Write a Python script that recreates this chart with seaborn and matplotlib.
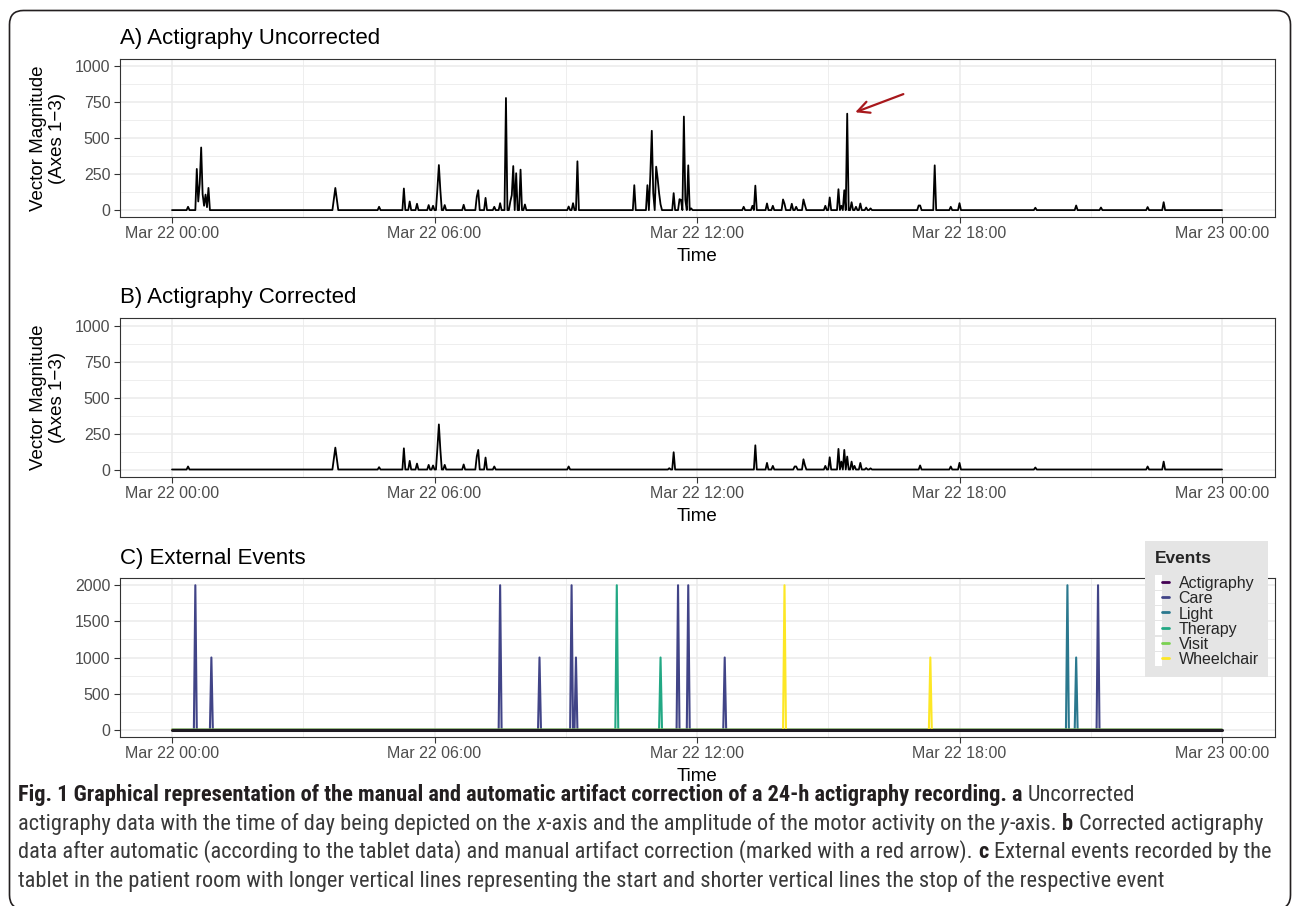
import numpy as np
import pandas as pd
import matplotlib
matplotlib.use("Agg")
import matplotlib.pyplot as plt
import matplotlib.dates as mdates
from matplotlib.ticker import MultipleLocator
from matplotlib import font_manager
from matplotlib.patches import FancyBboxPatch, Patch
from matplotlib.lines import Line2D
from matplotlib.legend_handler import HandlerTuple
import seaborn as sns

# ------------------------------------------------------------------ data
DAY = "2020-03-22"

uncorrected_times = [
    "00:22", "00:34", "00:36", "00:38", "00:40", "00:42", "00:44", "00:46", "00:48", "00:50",
    "03:42", "03:44", "03:46", "04:44", "05:18", "05:26", "05:36", "05:52", "05:58",
    "06:04", "06:06", "06:08", "06:14", "06:40", "06:58", "07:00", "07:10", "07:22",
    "07:30", "07:38", "07:44", "07:46", "07:48", "07:52", "07:58", "08:04",
    "09:04", "09:10", "09:16",
    "10:34", "10:52", "10:56", "10:58", "11:00", "11:04", "11:06", "11:08", "11:10",
    "11:28", "11:36", "11:38", "11:42", "11:44", "11:48", "11:52",
    "13:04", "13:16", "13:20", "13:36", "13:44", "13:58", "14:00", "14:10", "14:16",
    "14:26", "14:28", "14:56", "15:02", "15:14", "15:18", "15:22", "15:26", "15:32",
    "15:38", "15:44", "15:52", "15:58", "17:04", "17:06", "17:26", "17:48", "18:00",
    "19:44", "20:40", "21:14", "22:18", "22:40",
]
uncorrected_values = [
    23, 286, 60, 182, 435, 110, 30, 108, 20, 154,
    75, 154, 75, 23, 150, 60, 44, 35, 30,
    150, 313, 140, 35, 37, 94, 138, 85, 23,
    48, 779, 60, 104, 306, 256, 281, 39,
    25, 48, 339,
    173, 173, 247, 551, 118, 302, 221, 118, 40,
    118, 76, 71, 650, 71, 311, 12,
    23, 30, 170, 46, 30, 74, 44, 44, 23,
    74, 35, 30, 88, 145, 30, 138, 670, 55,
    23, 46, 18, 12, 32, 32, 311, 23, 48,
    16, 32, 18, 21, 55,
]

corrected_times = [
    "00:22", "03:42", "03:44", "03:46", "04:44", "05:18", "05:26", "05:36", "05:52", "05:58",
    "06:04", "06:06", "06:08", "06:14", "06:40", "06:58", "07:00", "07:10", "07:22",
    "09:04", "11:22", "11:28",
    "13:20", "13:36", "13:44", "14:14", "14:16", "14:26", "14:28", "14:56", "15:02",
    "15:14", "15:18", "15:22", "15:26", "15:32", "15:36", "15:44", "15:52", "15:58",
    "17:06", "17:48", "18:00", "19:44", "22:18", "22:40",
]
corrected_values = [
    21, 75, 152, 75, 16, 147, 60, 41, 32, 28,
    150, 313, 140, 32, 35, 92, 136, 83, 21,
    21, 9, 120,
    168, 46, 25, 21, 21, 71, 30, 25, 85,
    143, 55, 136, 90, 55, 25, 46, 10, 8,
    28, 21, 46, 14, 21, 55,
]

event_names = ["Actigraphy", "Care", "Light", "Therapy", "Visit", "Wheelchair"]
event_colors = ["#440154", "#414487", "#2A788E", "#22A884", "#7AD151", "#FDE725"]

care_times = ["00:32", "00:54", "07:30", "08:24", "09:08", "09:14", "11:34", "11:48", "12:38", "21:10"]
care_values = [2000, 1000, 2000, 1000, 2000, 1000, 2000, 2000, 1000, 2000]
light_times = ["20:28", "20:40"]
light_values = [2000, 1000]
therapy_times = ["10:10", "11:10"]
therapy_values = [2000, 1000]
visit_times = []
visit_values = []
wheelchair_times = ["14:00", "17:20"]
wheelchair_values = [2000, 1000]

x_ticks = ["00:00", "06:00", "12:00", "18:00", "24:00"]
y_ticks_act = [0, 250, 500, 750, 1000]
y_ticks_ev = [0, 500, 1000, 1500, 2000]

titles = ["A) Actigraphy Uncorrected", "B) Actigraphy Corrected", "C) External Events"]
y_title = "Vector Magnitude\n(Axes 1\u22123)"
x_title = "Time"

arrow_head = ("15:37", 680)
arrow_tail = ("16:43", 806)

# ------------------------------------------------------------------ helpers
grid = pd.date_range(f"{DAY} 00:00", periods=721, freq="2min")


def stamp(hhmm):
    return pd.Timestamp(DAY) + pd.Timedelta(hours=int(hhmm[:2]), minutes=int(hhmm[3:]))


def series(times, values):
    s = pd.Series(0.0, index=grid)
    for t, v in zip(times, values):
        s[stamp(t).floor("2min")] = v
    return pd.DataFrame({"time": s.index, "value": s.values})


df_a = series(uncorrected_times, uncorrected_values)
df_b = series(corrected_times, corrected_values)

ev_frames = []
for name, tt, vv in [("Actigraphy", [], []), ("Care", care_times, care_values),
                     ("Light", light_times, light_values),
                     ("Therapy", therapy_times, therapy_values),
                     ("Visit", visit_times, visit_values),
                     ("Wheelchair", wheelchair_times, wheelchair_values)]:
    f = series(tt, vv)
    f["Events"] = name
    ev_frames.append(f)
df_ev = pd.concat(ev_frames, ignore_index=True)
palette = dict(zip(event_names, event_colors))

# ------------------------------------------------------------------ style
sns.set_theme(style="white")
plt.rcParams["font.family"] = ["Liberation Sans", "DejaVu Sans"]

W, H = 1292, 906
fig = plt.figure(figsize=(W / 100, H / 100), dpi=100)
fig.patch.set_facecolor("white")

ax_left, ax_right = 119.5, 1274.5
panels = [(59, 217.3), (318.3, 476.7), (578, 737)]
axes = []
for top, bot in panels:
    ax = fig.add_axes([ax_left / W, 1 - bot / H, (ax_right - ax_left) / W, (bot - top) / H])
    axes.append(ax)
ax_a, ax_b, ax_c = axes

x0 = stamp(x_ticks[0])
x1 = stamp(x_ticks[-1])
pad = (x1 - x0) * 0.05

sns.lineplot(data=df_a, x="time", y="value", ax=ax_a, color="black", lw=1.3,
             estimator=None, errorbar=None)
sns.lineplot(data=df_b, x="time", y="value", ax=ax_b, color="black", lw=1.3,
             estimator=None, errorbar=None)
sns.lineplot(data=df_ev[df_ev["Events"] != "Actigraphy"], x="time", y="value",
             hue="Events", hue_order=event_names[1:], palette=palette, ax=ax_c,
             lw=1.5, estimator=None, errorbar=None, legend=False)
sns.lineplot(data=df_ev[df_ev["Events"] == "Actigraphy"], x="time", y="value",
             ax=ax_c, color="#1E1A22", lw=2.2, estimator=None, errorbar=None)

for ax, yt in zip(axes, [y_ticks_act, y_ticks_act, y_ticks_ev]):
    ax.set_xlim(x0 - pad, x1 + pad)
    step = yt[1] - yt[0]
    ax.set_ylim(yt[0] - 0.05 * (yt[-1] - yt[0]), yt[-1] + 0.05 * (yt[-1] - yt[0]))
    ax.set_yticks(yt)
    ax.yaxis.set_minor_locator(MultipleLocator(step / 2))
    ax.set_xticks([stamp(t) for t in x_ticks])
    ax.xaxis.set_minor_locator(mdates.HourLocator(byhour=[3, 9, 15, 21]))
    ax.xaxis.set_major_formatter(mdates.DateFormatter("%b %d %H:%M"))
    ax.grid(which="major", color="#EBEBEB", lw=1.1)
    ax.grid(which="minor", color="#EBEBEB", lw=0.6)
    ax.set_axisbelow(True)
    ax.set_facecolor("white")
    for sp in ax.spines.values():
        sp.set_visible(True)
        sp.set_color("#333333")
        sp.set_linewidth(0.8)
    ax.tick_params(which="major", length=4, width=0.8, color="#333333",
                   labelcolor="#4D4D4D", labelsize=11.5, pad=2.5,
                   bottom=True, left=True)
    ax.tick_params(which="minor", length=0)
    ax.set_xlabel(x_title, fontsize=13.5, labelpad=5, color="black")
    ax.set_ylabel("")

for ax in (ax_a, ax_b):
    ax.set_ylabel(y_title, fontsize=13.5, color="black", linespacing=1.15)
    ax.yaxis.set_label_coords((66 - ax_left) / (ax_right - ax_left), 0.5)

# titles
for ax, title, base in zip(axes, titles, [44, 303.5, 564]):
    fig.text(120 / W, 1 - base / H, title, fontsize=16, ha="left", va="baseline",
             color="black")

# red arrow (manual correction)
ax_a.annotate("", xy=(stamp(arrow_head[0]), arrow_head[1]),
              xytext=(stamp(arrow_tail[0]), arrow_tail[1]),
              arrowprops=dict(arrowstyle="->,head_length=0.7,head_width=0.35",
                              color="#A8181C", lw=1.6, shrinkA=0, shrinkB=0))

# legend
handles = [(Patch(facecolor="white", edgecolor="none"), Line2D([], [], color=c, lw=2))
           for c in event_colors]
leg = ax_c.legend(handles, event_names,
                  handler_map={tuple: HandlerTuple(ndivide=None, pad=0)},
                  loc="upper left", bbox_to_anchor=(1145 / W, 1 - 541 / H),
                  bbox_transform=fig.transFigure, borderaxespad=0,
                  frameon=True, fancybox=False, facecolor="#E5E5E5", edgecolor="none",
                  framealpha=1, title="Events",
                  title_fontproperties={"weight": "bold", "size": 12.5},
                  fontsize=11.5, handlelength=0.9, handleheight=1.0,
                  handletextpad=0.6, labelspacing=-0.02, borderpad=0.6,
                  alignment="left")
leg._legend_box.sep = 7
leg.set_zorder(10)

# border
border = FancyBboxPatch((9.5, -3), 1281, 898.5, boxstyle="round,pad=0,rounding_size=14",
                        transform=None, fill=False, ec="#231F20", lw=1.2)
fig.add_artist(border)

# caption font: prefer a condensed sans
ttf = font_manager.fontManager.ttflist
names = {f.name for f in ttf}
cap_family, cap_stretch = None, "normal"
for cand in ["Liberation Sans Narrow", "Roboto Condensed", "Open Sans Condensed",
             "Noto Sans Condensed", "DejaVu Sans Condensed", "Arial Narrow"]:
    if cand in names:
        cap_family = cand
        break
if cap_family is None:
    cond = [f for f in ttf if str(f.stretch) in ("condensed", "semi-condensed", "extra-condensed")
            or "Condensed" in f.name or "Narrow" in f.name]
    if cond:
        cap_family = cond[0].name
        cap_stretch = cond[0].stretch if isinstance(cond[0].stretch, str) else "normal"
    else:
        cap_family = "Open Sans"

caption_lines = [
    [("Fig. 1 Graphical representation of the manual and automatic artifact correction of a 24-h actigraphy recording. a", "b"),
     (" Uncorrected", "r")],
    [("actigraphy data with the time of day being depicted on the", "r"), (" x", "i"),
     ("-axis and the amplitude of the motor activity on the", "r"), (" y", "i"),
     ("-axis.", "r"), (" b", "b"), (" Corrected actigraphy", "r")],
    [("data after automatic (according to the tablet data) and manual artifact correction (marked with a red arrow).", "r"),
     (" c", "b"), (" External events recorded by the", "r")],
    [("tablet in the patient room with longer vertical lines representing the start and shorter vertical lines the stop of the respective event", "r")],
]
cap_baselines = [801, 830, 858, 887]
cap_targets = [1232, 1283, 1225, 1145]   # right edge of each caption line


def make_caption(fs):
    arts = []
    line_arts = []
    for pieces, base in zip(caption_lines, cap_baselines):
        prev = None
        row = []
        for s, st in pieces:
            gap = 0.0
            if s.startswith(" "):
                gap = 0.24 * fs
                s = s[1:]
            kw = dict(fontsize=fs, family=cap_family, stretch=cap_stretch,
                      color="#231F20" if st == "b" else "#3A3A3A",
                      weight="bold" if st == "b" else "normal",
                      style="italic" if st == "i" else "normal")
            if prev is None:
                t = fig.text(18 / W, 1 - base / H, s, ha="left", va="baseline", **kw)
            else:
                t = ax_c.annotate(s, xy=(1, 0), xycoords=prev, xytext=(gap, 0),
                                  textcoords="offset points", ha="left", va="bottom",
                                  annotation_clip=False, **kw)
            prev = t
            row.append(t)
            arts.append(t)
        line_arts.append(row)
    return arts, line_arts


fs0 = 14
arts, rows = make_caption(fs0)
fig.canvas.draw()
r = fig.canvas.get_renderer()
ratios = []
widths = []
for row, tgt in zip(rows, cap_targets):
    lft = row[0].get_window_extent(r).x0
    rgt = row[-1].get_window_extent(r).x1
    widths.append(rgt - lft)
    ratios.append((tgt - 18) / (rgt - lft))
# fit the reference widths on average, but keep every line inside the frame
scale = min(float(np.mean(ratios)), (1275 - 18) / max(widths))
for a in arts:
    a.remove()
arts, rows = make_caption(fs0 * scale)

fig.savefig("out.png", dpi=100, facecolor="white")
